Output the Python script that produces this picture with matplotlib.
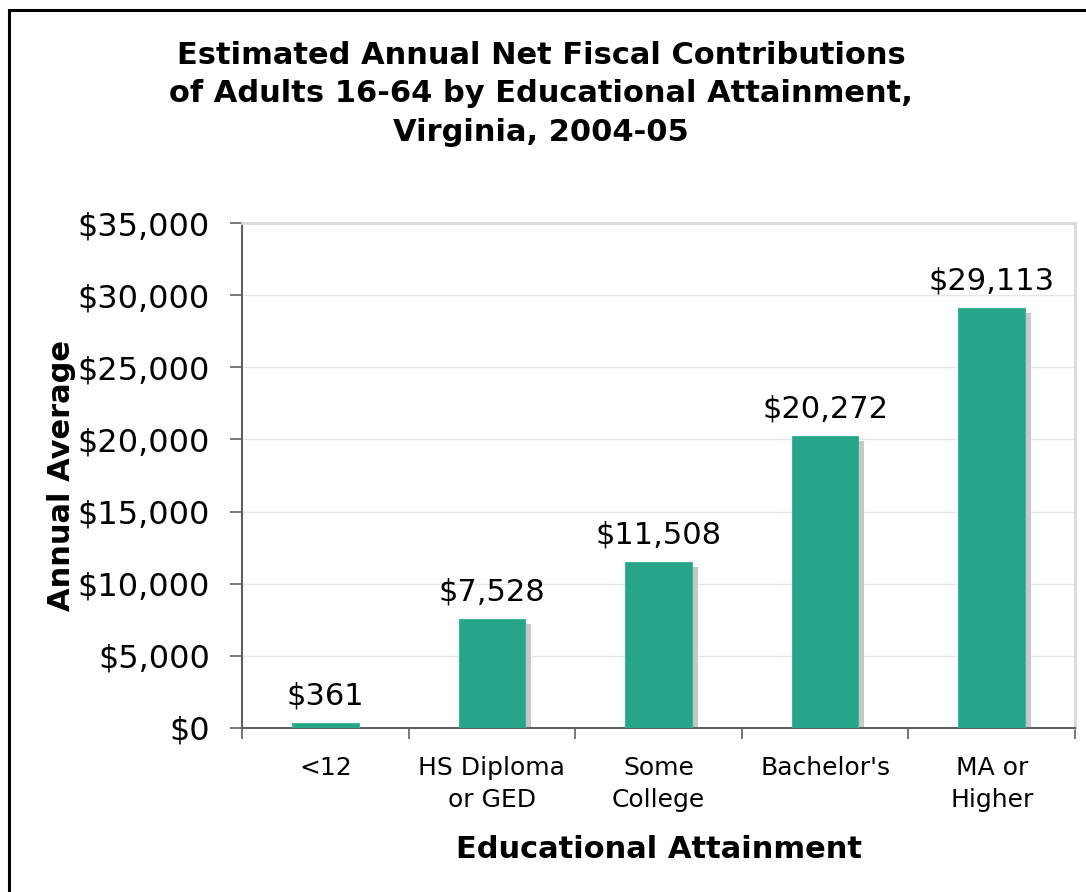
import numpy as np
import matplotlib.pyplot as plt
from matplotlib.patches import Rectangle
from matplotlib.ticker import FuncFormatter, MultipleLocator

categories = ['<12', 'HS Diploma\nor GED', 'Some\nCollege', "Bachelor's", 'MA or\nHigher']
values = [361, 7528, 11508, 20272, 29113]
labels = ['$361', '$7,528', '$11,508', '$20,272', '$29,113']

bar_color = '#27A589'
shadow_color = '#c8c8c8'

plt.rcParams['font.family'] = ['DejaVu Sans']

fig = plt.figure(figsize=(10.86, 8.92), dpi=100)
ax = fig.add_axes([242/1086, 1 - 728/892, (1075 - 242)/1086, (728 - 223)/892])

x = np.arange(len(categories))
w = 0.4

# drop shadow behind the bars
dx = 0.036
dy = 347
shadow_h = [max(v - dy, 0) for v in values]
ax.bar(x + dx, shadow_h, width=w, color=shadow_color, zorder=2)
ax.bar(x, values, width=w, color=bar_color, edgecolor='#3db597', linewidth=0.8, zorder=3)

for xi, v, lab in zip(x, values, labels):
    ax.annotate(lab, (xi, v), xytext=(0, 9), textcoords='offset points',
                ha='center', va='bottom', fontsize=22)

ax.set_xlim(-0.5, len(categories) - 0.5)
ax.set_ylim(0, 35000)
ax.yaxis.set_major_locator(MultipleLocator(5000))
ax.yaxis.set_major_formatter(FuncFormatter(lambda v, p: f'${v:,.0f}'))
ax.grid(axis='y', color='#e6e6e6', linewidth=1, zorder=0)
ax.set_axisbelow(True)

ax.set_xticks(x)
ax.set_xticklabels(categories, fontsize=18, linespacing=1.45)
ax.set_xticks(np.arange(len(categories) + 1) - 0.5, minor=True)
ax.tick_params(axis='x', which='major', length=0, pad=20)
ax.tick_params(axis='x', which='minor', length=8, width=1.2, color='#606060', direction='out')
ax.tick_params(axis='y', length=9, width=1.2, color='#606060', labelsize=23, pad=14)

for s in ['left', 'bottom']:
    ax.spines[s].set_color('#606060')
    ax.spines[s].set_linewidth(1.5)
for s in ['top', 'right']:
    ax.spines[s].set_color('#d9d9d9')
    ax.spines[s].set_linewidth(2)

ax.set_xlabel('Educational Attainment', fontsize=22, fontweight='bold', labelpad=16)
ax.set_ylabel('Annual Average', fontsize=22, fontweight='bold', labelpad=1)

fig.text(541/1086, 1 - 94/892,
         'Estimated Annual Net Fiscal Contributions\nof Adults 16-64 by Educational Attainment,\nVirginia, 2004-05',
         ha='center', va='center', fontsize=22, fontweight='bold', linespacing=1.4)

# frame around the whole chart
fig.patches.append(Rectangle((9/1086, -0.05), 1.1, 1 - 10/892 + 0.05, transform=fig.transFigure,
                             fill=False, edgecolor='black', linewidth=2.2))

fig.savefig('out.png', dpi=100)
